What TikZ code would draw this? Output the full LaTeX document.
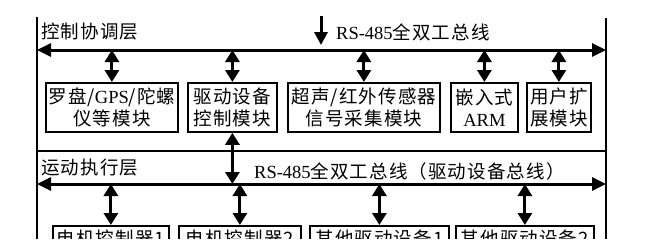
\documentclass[tikz,border=0pt]{standalone}
\usepackage{fontspec}
\setmainfont{Noto Sans CJK SC}[LetterSpace=6]
\newfontfamily\latf{Liberation Serif}
\newcommand{\lat}[1]{{\latf #1}}
\usetikzlibrary{arrows.meta}

\begin{document}
\begin{tikzpicture}[x=1pt,y=-1pt,
    every node/.style={font=\fontsize{18.5}{22}\selectfont,inner sep=0pt},
    modbox/.style={draw,line width=1.8pt,align=center,anchor=north west,minimum height=49pt},
    devbox/.style={draw,line width=1.8pt,anchor=north west,minimum height=26pt},
    busline/.style={line width=3pt,{Triangle[width=13pt,length=14pt]}-{Triangle[width=13pt,length=14pt]}},
    link/.style={line width=3pt,{Triangle[width=14pt,length=12pt]}-{Triangle[width=14pt,length=12pt]}},
    frameline/.style={line width=1.8pt}]
  \useasboundingbox (0,0) rectangle (649,249);
  \begin{scope}
    \clip (0,0) rectangle (649,238);
    % frame
    \coordinate (tl) at (37,17);
    \coordinate (tr) at (606,18);
    \coordinate (bl) at (37,245);
    \coordinate (br) at (606,245);
    \draw[frameline] (tl) -- (bl);
    \draw[frameline] (tr) -- (br);
    \draw[frameline] (tl |- 0,151) coordinate (sepl) -- (tr |- 0,151) coordinate (sepr);
    % control layer
    \node[anchor=west] (ctrl) at (41,32) {控制协调层};
    \node[anchor=west] (bus1txt) at (336,32) {\lat{RS-485}全双工总线};
    \coordinate (b1l) at (37,50);
    \coordinate (b1r) at (606,50);
    \draw[busline] (b1l) -- (b1r);
    \coordinate (input) at (321,16);
    \draw[line width=3pt,-{Triangle[width=13pt,length=13pt]},shorten >=5pt] (input) -- (input |- b1l);
    \node[modbox,minimum width=132pt] (luopan) at (45,82) {罗盘/\lat{GPS}/陀螺\\仪等模块};
    \node[modbox,minimum width=89pt] (qudong) at (187,82) {驱动设备\\控制模块};
    \node[modbox,minimum width=152pt] (chuangan) at (287,82) {超声/红外传感器\\信号采集模块};
    \node[modbox,minimum width=67pt] (arm) at (450,82) {嵌入式\\\lat{ARM}};
    \node[modbox,minimum width=64pt] (yonghu) at (526,82) {用户扩\\展模块};
    \foreach \n in {luopan,qudong,chuangan,arm,yonghu}
      \draw[link] (\n.north |- b1l) -- (\n.north);
    % motion layer
    \node[anchor=west] (motion) at (41,168) {运动执行层};
    \node[anchor=west] (bus2txt) at (254,171) {\lat{RS-485}全双工总线（驱动设备总线）};
    \coordinate (b2l) at (37,184);
    \coordinate (b2r) at (606,184);
    \draw[busline] (b2l) -- (b2r);
    \draw[link] (qudong.south) -- (qudong.south |- b2l);
    \foreach \name/\x/\w/\txt in {dj1/52/116/电机控制器1,dj2/178/122/电机控制器2,qt1/309/139/其他驱动设备1,qt2/455/138/其他驱动设备2}
    {
      \node[devbox,minimum width=\w pt] (\name) at (\x,225) {\txt};
      \draw[link] (\name.north |- b2l) -- (\name.north);
    }
  \end{scope}
\end{tikzpicture}
\end{document}
